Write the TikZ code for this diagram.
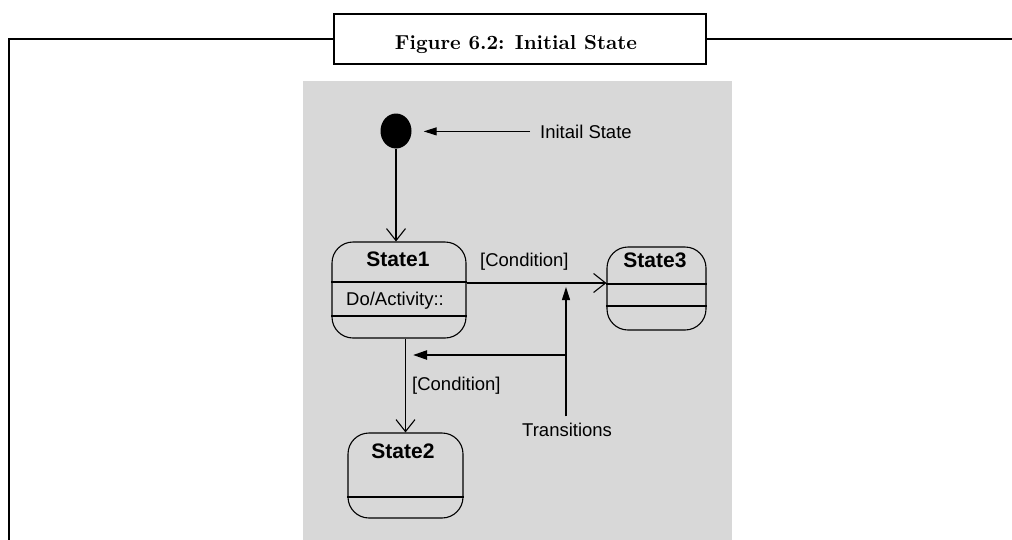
\documentclass[tikz,border=0pt]{standalone}
\usepackage{fontspec}
\usepackage{graphicx}
\newfontfamily\diagfont{Liberation Sans}
\usetikzlibrary{arrows.meta,shapes.geometric}
\definecolor{panelgray}{RGB}{216,216,216}
\begin{document}
\begin{tikzpicture}[x=1pt,y=-1pt,
  frameline/.style={line width=2pt,black},
  titlebox/.style={draw,line width=2pt,fill=white,minimum width=372pt,minimum height=50pt,inner sep=0pt},
  titletext/.style={inner sep=0pt,anchor=base},
  statebox/.style={draw,line width=1.1pt,rounded corners=21pt,inner sep=0pt},
  statename/.style={font=\diagfont\fontsize{21}{25}\selectfont\bfseries,inner sep=0pt,anchor=base},
  plain/.style={font=\diagfont\fontsize{18.5}{22}\selectfont,inner sep=0pt,anchor=base west},
  conn/.style={line width=1.1pt},
  openv/.style={conn,-{Straight Barb[length=12pt,width=19pt,line width=1.1pt]}},
  solidtip/.style={conn,-{Triangle[length=13pt,width=8pt]}},
  thicktip/.style={line width=2.2pt,-{Triangle[length=14pt,width=9pt]}}
]
\useasboundingbox (0,0) rectangle (1012,539);

% grey drawing panel
\fill[panelgray] (303,81) rectangle (732,540);

% caption box and the frame around the figure
\node[titlebox] (title) at (520,38.5) {};
\node[titletext] (titletxt) at (516,49.5) {\resizebox{242pt}{!}{\bfseries Figure 6.2: Initial State}};
\draw[frameline] (9,541) -- (9,38.5) -- (title.west);
\draw[frameline] (title.east) -- (1013,38.5);

% initial pseudo-state
\node[ellipse,fill=black,minimum width=31pt,minimum height=35pt,inner sep=0pt] (init) at (396,131) {};
\node[plain] (lblinit) at (540,138) {Initail State};

% states
\node[statebox,minimum width=134pt,minimum height=96pt] (s1) at (399,290) {};
\node[statebox,minimum width=99pt,minimum height=83pt] (s3) at (656.5,288.5) {};
\node[statebox,minimum width=115pt,minimum height=85pt] (s2) at (405.5,475.5) {};

% compartment dividers
\draw[conn] (s1.west |- 0,282) -- (s1.east |- 0,282);
\draw[conn] (s1.west |- 0,316) -- (s1.east |- 0,316);
\draw[conn] (s3.west |- 0,284) -- (s3.east |- 0,284);
\draw[conn] (s3.west |- 0,306) -- (s3.east |- 0,306);
\draw[conn] (s2.west |- 0,497) -- (s2.east |- 0,497);

% state texts
\node[statename] (n1) at (398,266) {State1};
\node[plain] (act1) at (346,305) {Do/Activity::};
\node[statename] (n3) at (655,267) {State3};
\node[statename] (n2) at (403,458) {State2};

% transitions
\draw[openv] (init.south) -- (init.south |- s1.north);
\draw[openv] (s1.east |- 0,283) -- (s3.west |- 0,283);
\draw[openv] (s2.north |- s1.south) -- (s2.north);
\node[plain] (c13) at (480,266) {[Condition]};
\node[plain] (c12) at (412,390) {[Condition]};

% annotations
\draw[solidtip,shorten <=10pt,shorten >=12pt] (lblinit.west) -- (lblinit.west -| init.east);
\node[plain] (lbltr) at (522,436) {Transitions};
\coordinate (tA) at (566,287);
\coordinate (tB) at (566,355);
\coordinate (tC) at (413,355);
\draw[solidtip] (tA |- lbltr.north) ++(0,-6) -- (tA);
\draw[thicktip] (tB) -- (tC);
\end{tikzpicture}
\end{document}
